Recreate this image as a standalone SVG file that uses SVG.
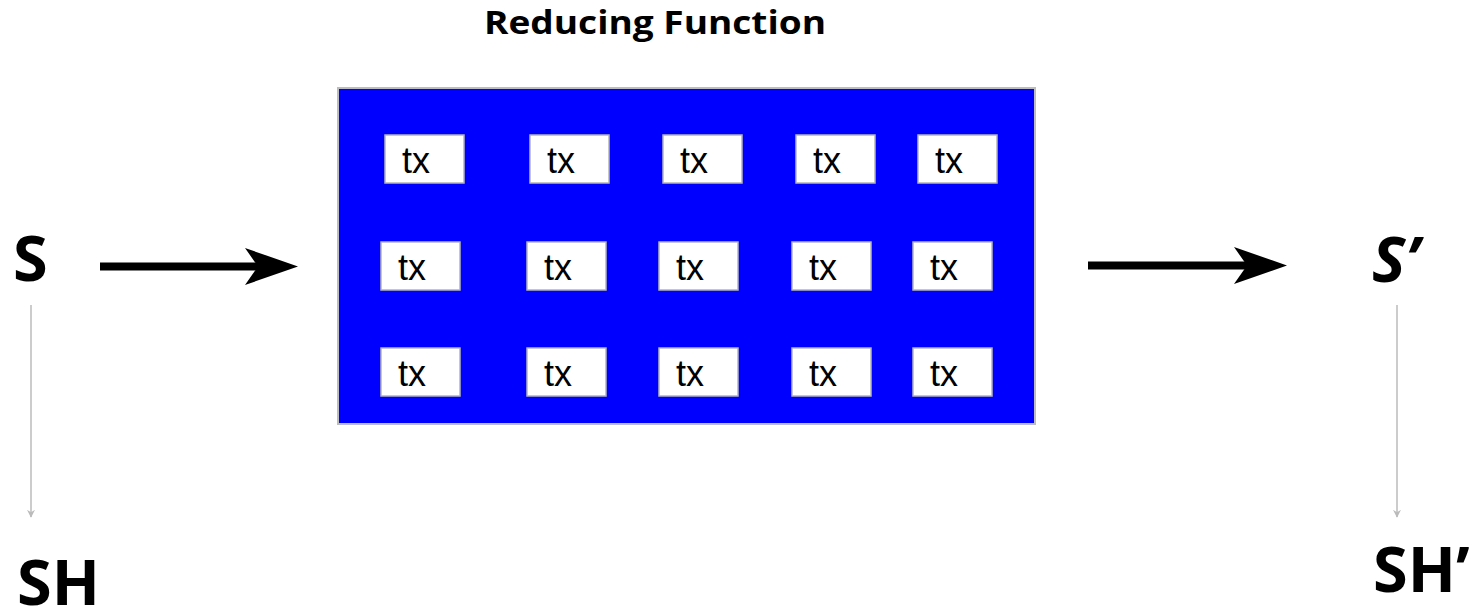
<svg xmlns="http://www.w3.org/2000/svg" width="1478" height="611" viewBox="0 0 1478 611">
  <style>
    .lbl { font-family: "Open Sans", "Liberation Sans", sans-serif; font-weight: 700; fill: #000; }
    .title { font-size: 33px; }
    .big { font-size: 63px; }
    .tx rect { fill: #fff; stroke: #b5b5b5; stroke-width: 1.5; }
    .tx text { font-family: "Liberation Sans", Arial, sans-serif; font-size: 36px; fill: #000; }
    .thin { stroke: #bbbbbb; stroke-width: 1.5; fill: none; }
    .thick { stroke: #000; stroke-width: 8; fill: none; }
  </style>
  <defs>
    <marker id="grayHead" viewBox="0 0 10 10" refX="9" refY="5" markerWidth="8" markerHeight="8" markerUnits="userSpaceOnUse" orient="auto">
      <path d="M0,0 L10,5 L0,10 L3,5 Z" fill="#bbbbbb"/>
    </marker>
  </defs>

  <rect width="1478" height="611" fill="#fff"/>

  <g id="title">
    <text class="lbl title" x="484" y="34" textLength="342" lengthAdjust="spacingAndGlyphs">Reducing Function</text>
  </g>

  <g id="reducer">
    <rect x="338" y="88" width="697" height="336" fill="#0000ff" stroke="#bdbdbd" stroke-width="2"/>
  </g>

  <g id="txs" class="tx">
    <g id="tx-1-1"><rect x="385" y="135" width="79" height="48"/><text x="402" y="173">tx</text></g>
    <g id="tx-1-2"><rect x="530" y="135" width="79" height="48"/><text x="547" y="173">tx</text></g>
    <g id="tx-1-3"><rect x="663" y="135" width="79" height="48"/><text x="680" y="173">tx</text></g>
    <g id="tx-1-4"><rect x="796" y="135" width="79" height="48"/><text x="813" y="173">tx</text></g>
    <g id="tx-1-5"><rect x="918" y="135" width="79" height="48"/><text x="935" y="173">tx</text></g>

    <g id="tx-2-1"><rect x="381" y="242" width="79" height="48"/><text x="398" y="280">tx</text></g>
    <g id="tx-2-2"><rect x="527" y="242" width="79" height="48"/><text x="544" y="280">tx</text></g>
    <g id="tx-2-3"><rect x="659" y="242" width="79" height="48"/><text x="676" y="280">tx</text></g>
    <g id="tx-2-4"><rect x="792" y="242" width="79" height="48"/><text x="809" y="280">tx</text></g>
    <g id="tx-2-5"><rect x="913" y="242" width="79" height="48"/><text x="930" y="280">tx</text></g>

    <g id="tx-3-1"><rect x="381" y="348" width="79" height="48"/><text x="398" y="386">tx</text></g>
    <g id="tx-3-2"><rect x="527" y="348" width="79" height="48"/><text x="544" y="386">tx</text></g>
    <g id="tx-3-3"><rect x="659" y="348" width="79" height="48"/><text x="676" y="386">tx</text></g>
    <g id="tx-3-4"><rect x="792" y="348" width="79" height="48"/><text x="809" y="386">tx</text></g>
    <g id="tx-3-5"><rect x="913" y="348" width="79" height="48"/><text x="930" y="386">tx</text></g>
  </g>

  <g id="state-s"><text class="lbl big" x="13" y="281">S</text></g>
  <g id="state-s-prime"><text class="lbl big" x="1372" y="282" font-style="italic" font-size="60">S’</text></g>
  <g id="hash-sh"><text class="lbl big" x="17" y="605">SH</text></g>
  <g id="hash-sh-prime"><text class="lbl big" x="1373" y="592">SH’</text></g>

  <g id="connectors">
    <line class="thick" x1="100" y1="266.5" x2="262" y2="266.5"/>
    <path d="M298,266.5 L245,248 L258,266.5 L245,285 Z" fill="#000"/>
    <line class="thick" x1="1088" y1="265.5" x2="1250" y2="265.5"/>
    <path d="M1287,265.5 L1234,247 L1247,265.5 L1234,284 Z" fill="#000"/>
    <line class="thin" x1="31" y1="305" x2="31" y2="517" marker-end="url(#grayHead)"/>
    <line class="thin" x1="1397" y1="305" x2="1397" y2="517" marker-end="url(#grayHead)"/>
  </g>
</svg>
